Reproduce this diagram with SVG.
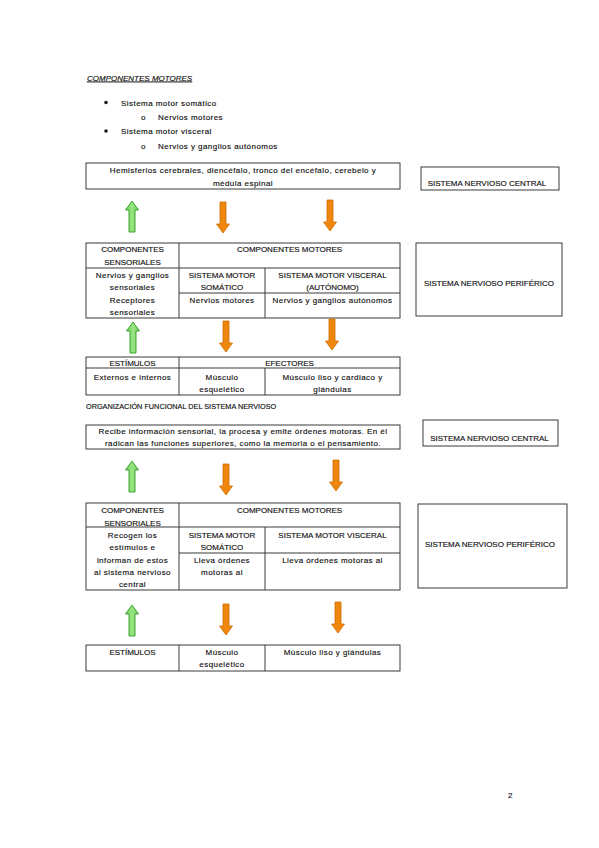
<svg xmlns="http://www.w3.org/2000/svg" width="599" height="848" viewBox="0 0 599 848">
<defs>
<style>
text{font-family:"Liberation Sans",Arial,sans-serif;font-size:8px;fill:#111;stroke:#111;stroke-width:0.15;letter-spacing:0.45px}
.c{text-anchor:middle}
.u{letter-spacing:0}
.box{fill:#fff;stroke:#3a3a3a;stroke-width:1}
.ln{stroke:#3a3a3a;stroke-width:1;fill:none}
.g{fill:url(#gg);stroke:#3fa535;stroke-width:1}
.o{fill:#ef870c;stroke:#cf6c00;stroke-width:0.8}
</style>
<linearGradient id="gg" x1="0" y1="0" x2="1" y2="0">
<stop offset="0" stop-color="#62cc4e"/><stop offset="0.5" stop-color="#9be584"/><stop offset="1" stop-color="#62cc4e"/>
</linearGradient>
<path id="down" d="M-3,0 H3 V22 H6.5 L0,31 L-6.5,22 H-3 Z"/>
<path id="up" d="M-3,31 H3 V9 H6.5 L0,0 L-6.5,9 H-3 Z"/>
</defs>
<rect width="599" height="848" fill="#fff"/>

<g id="intro">
<text class="u" x="87" y="80.5" font-style="italic" text-decoration="underline">COMPONENTES MOTORES</text>
<circle cx="106" cy="102.5" r="1.8" fill="#1a1a1a"/>
<text x="121" y="105.5">Sistema motor somático</text>
<text x="141" y="120">o</text>
<text x="158" y="120">Nervios motores</text>
<circle cx="106" cy="131" r="1.8" fill="#1a1a1a"/>
<text x="121" y="134">Sistema motor visceral</text>
<text x="141" y="148.5">o</text>
<text x="158" y="148.5">Nervios y ganglios autónomos</text>
</g>

<g id="snc1-content">
<rect class="box" x="86" y="163" width="314" height="26"/>
<text class="c" x="243" y="173">Hemisferios cerebrales, diencéfalo, tronco del encéfalo, cerebelo y</text>
<text class="c" x="243" y="185.5">médula espinal</text>
</g>
<g id="snc1-label">
<rect class="box" x="421" y="167" width="138" height="23"/>
<text class="c u" x="487" y="185.5">SISTEMA NERVIOSO CENTRAL</text>
</g>

<g id="snp1-table">
<rect class="box" x="86" y="243" width="314" height="75"/>
<path class="ln" d="M86,268 H400 M179,243 V318 M265,268 V318 M179,293 H400"/>
<text class="c u" x="132.5" y="252">COMPONENTES</text>
<text class="c u" x="132.5" y="265">SENSORIALES</text>
<text class="c u" x="289.5" y="252">COMPONENTES MOTORES</text>
<text class="c" x="132.5" y="278">Nervios y ganglios</text>
<text class="c" x="132.5" y="290">sensoriales</text>
<text class="c" x="132.5" y="303">Receptores</text>
<text class="c" x="132.5" y="315">sensoriales</text>
<text class="c u" x="222" y="278">SISTEMA MOTOR</text>
<text class="c u" x="222" y="290">SOMÁTICO</text>
<text class="c u" x="332.5" y="278">SISTEMA MOTOR VISCERAL</text>
<text class="c u" x="332.5" y="290">(AUTÓNOMO)</text>
<text class="c" x="222" y="303">Nervios motores</text>
<text class="c" x="332.5" y="303">Nervios y ganglios autónomos</text>
</g>
<g id="snp1-label">
<rect class="box" x="416" y="243" width="146" height="73"/>
<text class="c u" x="489" y="286">SISTEMA NERVIOSO PERIFÉRICO</text>
</g>

<g id="efectores1">
<rect class="box" x="86" y="357" width="314" height="38"/>
<path class="ln" d="M86,368 H400 M179,357 V395 M265,368 V395"/>
<text class="c u" x="132.5" y="366">ESTÍMULOS</text>
<text class="c u" x="289.5" y="366">EFECTORES</text>
<text class="c" x="132.5" y="380">Externos e internos</text>
<text class="c" x="222" y="380">Músculo</text>
<text class="c" x="222" y="391.5">esquelético</text>
<text class="c" x="332.5" y="380">Músculo liso y cardiaco y</text>
<text class="c" x="332.5" y="391.5">glándulas</text>
</g>

<g id="heading2">
<text class="u" x="86" y="408.5" style="font-size:7.3px">ORGANIZACIÓN FUNCIONAL DEL SISTEMA NERVIOSO</text>
</g>

<g id="snc2-content">
<rect class="box" x="86" y="425" width="314" height="24"/>
<text class="c" x="243" y="434">Recibe información sensorial, la procesa y emite órdenes motoras. En él</text>
<text class="c" x="243" y="446">radican las funciones superiores, como la memoria o el pensamiento.</text>
</g>
<g id="snc2-label">
<rect class="box" x="423" y="420" width="135" height="26"/>
<text class="c u" x="489.5" y="440.5">SISTEMA NERVIOSO CENTRAL</text>
</g>

<g id="snp2-table">
<rect class="box" x="86" y="503" width="314" height="87"/>
<path class="ln" d="M86,527 H400 M179,503 V590 M265,527 V590 M179,553 H400"/>
<text class="c u" x="132.5" y="513">COMPONENTES</text>
<text class="c u" x="132.5" y="526">SENSORIALES</text>
<text class="c u" x="289.5" y="513">COMPONENTES MOTORES</text>
<text class="c" x="132.5" y="538">Recogen los</text>
<text class="c" x="132.5" y="550">estímulos e</text>
<text class="c" x="132.5" y="563">informan de estos</text>
<text class="c" x="132.5" y="575">al sistema nervioso</text>
<text class="c" x="132.5" y="587">central</text>
<text class="c u" x="222" y="538">SISTEMA MOTOR</text>
<text class="c u" x="222" y="550">SOMÁTICO</text>
<text class="c u" x="332.5" y="538">SISTEMA MOTOR VISCERAL</text>
<text class="c" x="222" y="563">Lleva órdenes</text>
<text class="c" x="222" y="575">motoras al</text>
<text class="c" x="332.5" y="563">Lleva órdenes motoras al</text>
</g>
<g id="snp2-label">
<rect class="box" x="418" y="504" width="149" height="84"/>
<text class="c u" x="490" y="547">SISTEMA NERVIOSO PERIFÉRICO</text>
</g>

<g id="efectores2">
<rect class="box" x="86" y="645" width="314" height="26"/>
<path class="ln" d="M179,645 V671 M265,645 V671"/>
<text class="c u" x="132.5" y="655">ESTÍMULOS</text>
<text class="c" x="222" y="655">Músculo</text>
<text class="c" x="222" y="667">esquelético</text>
<text class="c" x="332.5" y="655">Músculo liso y glándulas</text>
</g>

<g id="connectors">
<use href="#up" class="g" x="132" y="201"/>
<use href="#down" class="o" x="223" y="202"/>
<use href="#down" class="o" x="330" y="200"/>
<use href="#up" class="g" x="133" y="322"/>
<use href="#down" class="o" x="226" y="321"/>
<use href="#down" class="o" x="332" y="319"/>
<use href="#up" class="g" x="132" y="461"/>
<use href="#down" class="o" x="226" y="464"/>
<use href="#down" class="o" x="336" y="460"/>
<use href="#up" class="g" x="132" y="605"/>
<use href="#down" class="o" x="226" y="604"/>
<use href="#down" class="o" x="338" y="602"/>
</g>

<g id="page-number">
<text class="u" x="508" y="798">2</text>
</g>
</svg>
